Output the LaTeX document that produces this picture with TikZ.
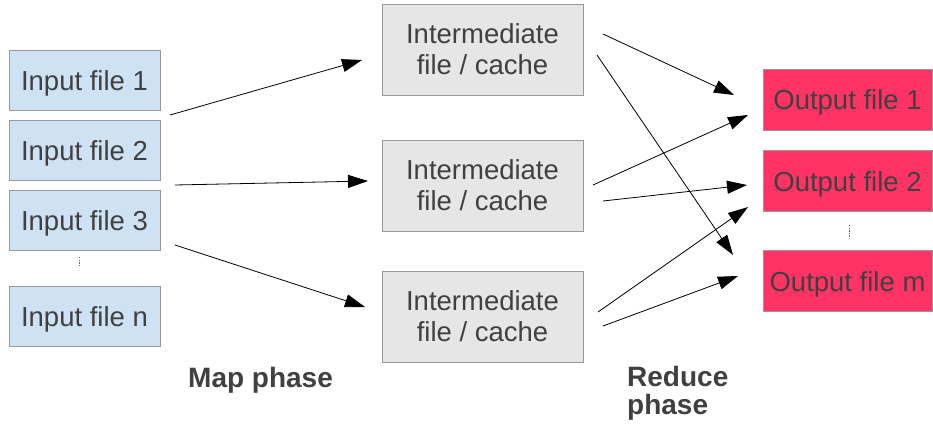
\documentclass[tikz,border=0pt]{standalone}
\usepackage{fontspec}
\setmainfont{Liberation Sans}
\usetikzlibrary{arrows.meta}
\definecolor{inblue}{HTML}{CFE2F3}
\definecolor{midgray}{HTML}{E6E6E6}
\definecolor{outred}{HTML}{FF3366}
\definecolor{boxline}{HTML}{999999}
\definecolor{txt}{HTML}{404040}
\tikzset{
  box/.style={draw=boxline, line width=0.9pt, text=txt, inner sep=0pt, align=center,
    font=\fontsize{27.5}{31}\selectfont},
  onebox/.style={box, text height=20pt, text depth=0pt},
  inbox/.style={onebox, fill=inblue, minimum width=151pt, minimum height=60pt},
  midbox/.style={box, fill=midgray, minimum width=201pt, minimum height=91pt},
  outbox/.style={onebox, fill=outred, minimum width=169pt, minimum height=61pt},
  conn/.style={line width=0.8pt, -{Triangle[length=20pt,width=13pt]}},
  vdots/.style={draw=txt!80, line width=0.9pt, dash pattern=on 1.3pt off 1.3pt},
  phase/.style={text=txt, font=\bfseries\fontsize{28}{30}\selectfont, inner sep=0pt, align=left}
}
\begin{document}
\begin{tikzpicture}[x=1pt,y=-1pt]
\useasboundingbox (0,0) rectangle (933,423);
% input boxes
\node[inbox] (in1) at (84.5,80) {Input file 1};
\node[inbox] (in2) at (84.5,150) {Input file 2};
\node[inbox] (in3) at (84.5,220.5) {Input file 3};
\node[inbox] (inn) at (84.5,316) {Input file n};
\coordinate (id1) at (79,257);
\coordinate (id2) at (79,266);
\draw[vdots] (id1) -- (id2);
% intermediate boxes
\node[midbox] (m1) at (482.5,49.5) {Intermediate\\file / cache};
\node[midbox] (m2) at (482.5,185.5) {Intermediate\\file / cache};
\node[midbox] (m3) at (482.5,316.5) {Intermediate\\file / cache};
% output boxes
\node[outbox] (o1) at (847.5,99.5) {Output file 1};
\node[outbox] (o2) at (847.5,181) {Output file 2};
\node[outbox] (om) at (847.5,281) {Output file m};
\coordinate (od1) at (849,225);
\coordinate (od2) at (849,238);
\draw[vdots] (od1) -- (od2);
% map arrows
\coordinate (a1s) at (170,115); \coordinate (a1e) at (362,60);
\coordinate (a2s) at (175,185); \coordinate (a2e) at (368,181);
\coordinate (a3s) at (175,245); \coordinate (a3e) at (365,307);
\draw[conn] (a1s) -- (a1e);
\draw[conn] (a2s) -- (a2e);
\draw[conn] (a3s) -- (a3e);
% reduce arrows
\coordinate (r1s) at (603,34);  \coordinate (r1e) at (734,95);
\coordinate (r2s) at (597,55);  \coordinate (r2e) at (733,255);
\coordinate (r3s) at (593,185); \coordinate (r3e) at (748,115);
\coordinate (r4s) at (603,201); \coordinate (r4e) at (747,185);
\coordinate (r5s) at (598,312); \coordinate (r5e) at (748,207);
\coordinate (r6s) at (603,326); \coordinate (r6e) at (738,276);
\draw[conn] (r1s) -- (r1e);
\draw[conn] (r2s) -- (r2e);
\draw[conn] (r3s) -- (r3e);
\draw[conn] (r4s) -- (r4e);
\draw[conn] (r5s) -- (r5e);
\draw[conn] (r6s) -- (r6e);
% phase labels
\node[phase, anchor=base west] (mapph) at (188,387) {Map phase};
\node[phase, anchor=base west] (redph) at (627,414) {Reduce\\[-2pt]phase};
\end{tikzpicture}
\end{document}
